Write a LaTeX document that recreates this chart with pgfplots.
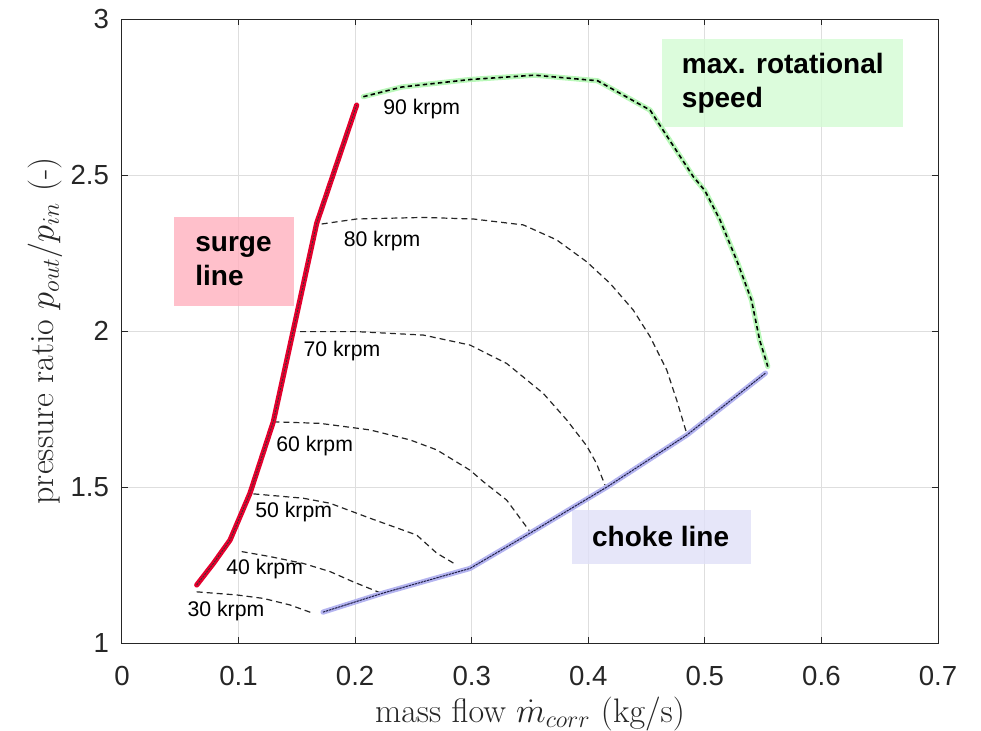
\documentclass[border=0pt]{standalone}
\usepackage{fontspec}
\setmainfont{Liberation Sans}
\newfontfamily\lmr{Latin Modern Roman}
\usepackage{pgfplots}
\usepackage{pgfplotstable}
\pgfplotsset{compat=1.18}

\definecolor{axgray}{RGB}{38,38,38}
\definecolor{gridgray}{RGB}{222,222,222}
\definecolor{surgered}{RGB}{228,0,45}
\definecolor{maxgreen}{RGB}{185,248,185}
\definecolor{chokeblue}{RGB}{180,180,240}
\definecolor{chokedark}{RGB}{30,30,70}
\definecolor{pinkbox}{RGB}{255,176,190}
\definecolor{greenbox}{RGB}{211,251,211}
\definecolor{bluebox}{RGB}{224,224,248}

% surge line
\pgfplotstableread{
x y
0.0641 1.186
0.0784 1.255
0.0927 1.330
0.1098 1.480
0.1298 1.709
0.167 2.345
0.2013 2.724
}\surge

% max. rotational speed
\pgfplotstableread{
x y
0.207 2.751
0.240 2.782
0.2985 2.806
0.354 2.820
0.408 2.802
0.453 2.708
0.490 2.495
0.500 2.450
0.513 2.356
0.528 2.220
0.540 2.099
0.547 1.971
0.554 1.886
}\maxspeed

% choke line
\pgfplotstableread{
x y
0.1724 1.099
0.2239 1.160
0.2985 1.239
0.350 1.352
0.416 1.500
0.4847 1.667
0.552 1.865
}\choke

% speed lines
\pgfplotstableread{
x y
0.0641 1.164
0.0984 1.154
0.1212 1.143
0.1441 1.122
0.1641 1.095
}\krpmA
\pgfplotstableread{
x y
0.1027 1.293
0.127 1.277
0.1555 1.255
0.1784 1.229
0.1984 1.196
0.2228 1.159
}\krpmB
\pgfplotstableread{
x y
0.1127 1.478
0.1555 1.464
0.1784 1.448
0.2127 1.400
0.2528 1.346
0.270 1.288
0.2871 1.250
}\krpmC
\pgfplotstableread{
x y
0.1298 1.709
0.1699 1.704
0.2127 1.683
0.2471 1.651
0.270 1.619
0.2985 1.554
0.310 1.517
0.330 1.458
0.350 1.357
}\krpmD
\pgfplotstableread{
x y
0.1527 1.998
0.2013 1.998
0.2585 1.987
0.2985 1.955
0.330 1.896
0.3614 1.800
0.3815 1.715
0.3986 1.632
0.407 1.576
0.4143 1.506
}\krpmE
\pgfplotstableread{
x y
0.1713 2.343
0.2013 2.359
0.2585 2.364
0.3014 2.359
0.3443 2.340
0.3729 2.292
0.3986 2.222
0.4186 2.153
0.4386 2.067
0.453 1.982
0.4673 1.875
0.4758 1.779
0.4844 1.672
}\krpmF

\begin{document}
\begin{tikzpicture}
\path[use as bounding box] (-61pt,-43.5pt) rectangle (429.5pt,321.5pt);
\begin{axis}[
  at={(0,0)}, anchor=south west,
  scale only axis, width=408pt, height=312pt,
  xmin=0, xmax=0.7, ymin=1, ymax=3,
  xtick={0,0.1,...,0.7}, ytick={1,1.5,2,2.5,3},
  /pgf/number format/assume math mode=true,
  /pgf/number format/fixed,
  tick align=inside,
  major tick length=3pt,
  axis line style={axgray, line width=0.5pt},
  every tick/.style={axgray, line width=0.5pt},
  grid=major,
  major grid style={gridgray, line width=0.5pt},
  ticklabel style={font=\fontsize{13.8}{16}\selectfont, text=axgray},
  xticklabel style={yshift=-8pt},
  yticklabel style={xshift=-3pt},
  xlabel={\lmr mass flow $\dot{m}_{corr}$ (kg/s)},
  ylabel={\lmr pressure ratio $p_{out}/p_{in}$ (-)},
  label style={font=\fontsize{17}{20}\selectfont, text=axgray},
  xlabel style={at={(axis description cs:0.5,-0.1138)}, anchor=center},
  ylabel style={at={(axis description cs:-0.0944,0.5)}, anchor=center},
  clip=false,
]
% annotation boxes
\fill[pinkbox, fill opacity=0.8] (axis cs:0.0446,2.080) rectangle (axis cs:0.1476,2.366);
\fill[greenbox, fill opacity=0.8] (axis cs:0.463,2.655) rectangle (axis cs:0.6697,2.936);
\fill[bluebox, fill opacity=0.8] (axis cs:0.3858,1.252) rectangle (axis cs:0.5393,1.426);

% constant speed lines
\pgfplotsset{speed/.style={no marks, color=black!85, line width=0.6pt, dash pattern=on 3pt off 2pt}}
\addplot[speed] table {\krpmA};
\addplot[speed] table {\krpmB};
\addplot[speed] table {\krpmC};
\addplot[speed] table {\krpmD};
\addplot[speed] table {\krpmE};
\addplot[speed] table {\krpmF};

% max speed line
\addplot[no marks, maxgreen, line width=2.6pt, line join=round, line cap=round] table {\maxspeed};
\addplot[no marks, black, line width=0.8pt, dash pattern=on 2.2pt off 1.6pt] table {\maxspeed};

% choke line
\addplot[no marks, chokeblue, line width=2.6pt, line join=round, line cap=round] table {\choke};
\addplot[no marks, chokedark, line width=0.5pt, dash pattern=on 1.2pt off 0.4pt] table {\choke};

% surge line
\addplot[no marks, surgered, line width=2.6pt, line join=round, line cap=round] table {\surge};
\addplot[no marks, black!80, line width=0.4pt, dash pattern=on 1pt off 0.6pt] table {\surge};

% speed labels
\begin{scope}[every node/.style={font=\fontsize{10.6}{12}\selectfont, anchor=base west, inner sep=0pt}]
\node at (axis cs:0.2239,2.6946) {90 krpm};
\node at (axis cs:0.1899,2.270) {80 krpm};
\node at (axis cs:0.1555,1.9177) {70 krpm};
\node at (axis cs:0.1321,1.613) {60 krpm};
\node at (axis cs:0.1141,1.403) {50 krpm};
\node at (axis cs:0.0892,1.218) {40 krpm};
\node at (axis cs:0.056,1.0865) {30 krpm};
\end{scope}

% box labels
\begin{scope}[every node/.style={font=\fontsize{14}{17}\selectfont\bfseries, anchor=west, align=left, inner sep=0pt}]
\node at (axis cs:0.0626,2.224) {surge\\line};
\node at (axis cs:0.480,2.795) {max. rotational\\speed};
\node at (axis cs:0.403,1.340) {choke line};
\end{scope}
\end{axis}
\end{tikzpicture}
\end{document}
